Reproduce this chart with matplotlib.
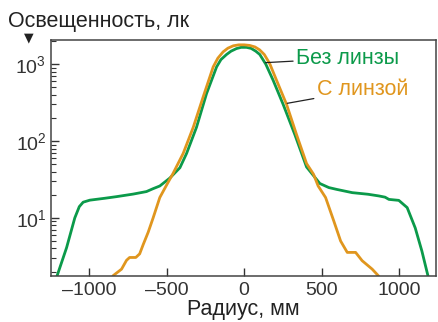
import matplotlib
matplotlib.use("Agg")
import matplotlib.pyplot as plt

plt.rcParams['font.family'] = ['Liberation Sans', 'DejaVu Sans']
plt.rcParams['mathtext.fontset'] = 'custom'
plt.rcParams['mathtext.rm'] = 'Liberation Sans'

# радиус, мм / освещенность, лк
r_green = [-1215, -1208, -1147, -1094, -1065, -1040, -997, -900, -824, -717, -631, -588,
           -545, -480, -415, -372, -308, -243, -178, -150, -114, -85, -50, -20, 15,
           45, 75, 101, 140, 187, 252, 327, 403, 489, 547, 597, 698, 800, 870, 910,
           935, 960, 999, 1053, 1105, 1148, 1187, 1195]
e_green = [1.5, 1.77, 4.1, 10, 14, 16, 17, 18, 18.9, 20.4, 22, 24,
           26, 33, 45, 69, 151, 415, 925, 1150, 1340, 1480, 1600, 1660, 1660,
           1610, 1480, 1340, 1000, 620, 300, 122, 46, 28, 24.8, 23.5, 21.3, 20.3, 19.3, 18.6,
           17.4, 17.2, 16.9, 13.6, 7.4, 3.7, 1.77, 1.5]

r_orange = [-860, -846, -792, -760, -740, -700, -675, -652, -620, -588, -545, -500,
            -459, -394, -329, -265, -200, -170, -136, -105, -70, -35, 0, 35, 70,
            100, 130, 165, 209, 274, 338, 403, 448, 478, 526, 579, 623, 666, 720,
            762, 827, 866, 880]
e_orange = [1.5, 1.77, 2.15, 2.8, 3.05, 3.05, 3.4, 4.5, 6.5, 10, 18.4, 27,
            38, 69, 151, 375, 925, 1200, 1450, 1620, 1740, 1790, 1790, 1760, 1680,
            1540, 1340, 1020, 620, 300, 122, 51, 37, 26, 18.4, 9.1, 5.0, 3.55, 3.55,
            2.77, 2.15, 1.77, 1.6]

x_ticks = [-1000, -500, 0, 500, 1000]
y_ticks = [10, 100, 1000]
y_labels = [r'$\mathrm{10^{1}}$', r'$\mathrm{10^{2}}$', r'$\mathrm{10^{3}}$']

green = '#0b9a4a'
orange = '#e0961e'

fig = plt.figure(figsize=(4.38, 3.22), dpi=100)
ax = fig.add_axes([50.5 / 438, 1 - 276 / 322, 385 / 438, 236 / 322])

ax.plot(r_green, e_green, color=green, lw=2.0)
ax.plot(r_orange, e_orange, color=orange, lw=2.0)

ax.set_yscale('log')
ax.set_xlim(-1251, 1236)
ax.set_ylim(1.75, 2070)

ax.set_xticks(x_ticks)
ax.set_xticklabels([str(t).replace('-', '\u2013') for t in x_ticks])
ax.set_yticks(y_ticks)
ax.set_yticklabels(y_labels)
ax.tick_params(axis='both', which='major', direction='in', length=6, width=1,
               labelsize=14, colors='#333333', pad=3)
ax.tick_params(axis='x', which='major', pad=4)
ax.tick_params(axis='y', which='minor', direction='in', length=3.5, width=0.8,
               colors='#333333')
ax.tick_params(axis='x', which='minor', bottom=False)
for s in ax.spines.values():
    s.set_color('#444444')
    s.set_linewidth(1.1)

ax.set_xlabel('Радиус, мм', fontsize=15.5, color='#222222', labelpad=0)
fig.text(8 / 438, 1 - 21 / 322, 'Освещенность, лк', fontsize=15.5, color='#222222',
         ha='left', va='center')
fig.text(29 / 438, 1 - 38 / 322, '▼', fontsize=9, color='#222222',
         ha='center', va='center', family=['DejaVu Sans'])

ax.annotate('Без линзы', xy=(138, 1050), xytext=(334, 1200), color=green,
            fontsize=15.5, va='center', ha='left',
            arrowprops=dict(arrowstyle='-', color='#222222', lw=0.9,
                            shrinkA=0, shrinkB=0))
ax.annotate('С линзой', xy=(278, 310), xytext=(468, 464), color=orange,
            fontsize=15.5, va='center', ha='left',
            arrowprops=dict(arrowstyle='-', color='#222222', lw=0.9,
                            shrinkA=0, shrinkB=0))

fig.savefig('out.png', dpi=100)
